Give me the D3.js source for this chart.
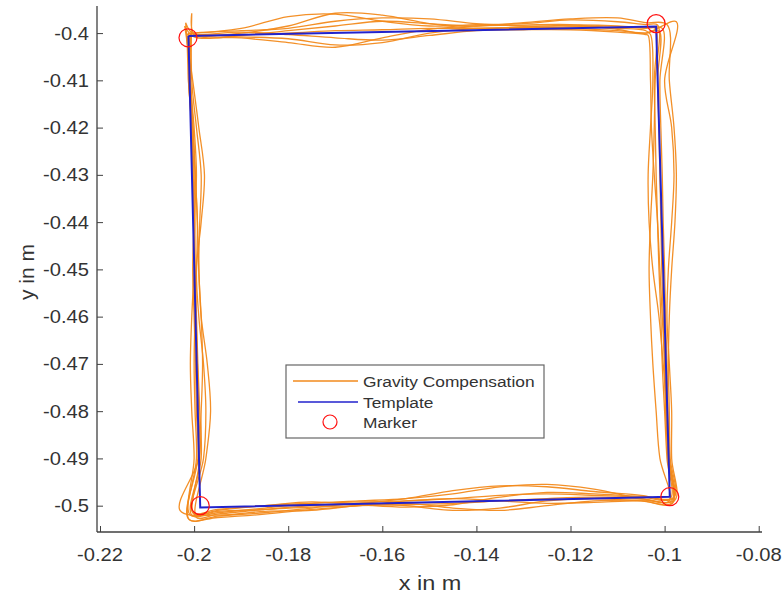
<!DOCTYPE html>
<html>
<head>
<meta charset="utf-8">
<script src="https://cdn.jsdelivr.net/npm/d3@7"></script>
<style>
  body { margin: 0; background: #fff; }
  text { font-family: "Liberation Sans", Arial, sans-serif; fill: #333; }
</style>
</head>
<body>
<svg width="784" height="599"></svg>
<script>
// ---- data (metres) ----
var xTicks = [-0.22, -0.2, -0.18, -0.16, -0.14, -0.12, -0.1, -0.08];
var yTicks = [-0.4, -0.41, -0.42, -0.43, -0.44, -0.45, -0.46, -0.47, -0.48, -0.49, -0.5];

// template square (closed)
var templateX = [-0.2012, -0.1018, -0.0989, -0.1987, -0.2012];
var templateY = [-0.4006, -0.3986, -0.4981, -0.5004, -0.4006];

// marker corners
var markerX = [-0.2013, -0.1018, -0.0989, -0.1987];
var markerY = [-0.4010, -0.3980, -0.4981, -0.5000];

// sample positions along each side
var topX = [-0.200, -0.19, -0.18, -0.17, -0.16, -0.15, -0.14, -0.13, -0.12, -0.11, -0.104];
var rightY = [-0.41, -0.42, -0.43, -0.44, -0.45, -0.46, -0.47, -0.48, -0.49];
var bottomX = [-0.105, -0.115, -0.125, -0.135, -0.145, -0.155, -0.165, -0.175, -0.185, -0.195];
var leftY = [-0.49, -0.48, -0.47, -0.46, -0.45, -0.44, -0.43, -0.42, -0.41];

// gravity compensation runs: y along top, x along right, y along bottom, x along left
var topRuns = [
  [-0.4000, -0.3990, -0.3965, -0.3960, -0.3975, -0.3985, -0.3982, -0.3980, -0.3972, -0.3976, -0.3982],
  [-0.4003, -0.4000, -0.3985, -0.3958, -0.3962, -0.3980, -0.3990, -0.3987, -0.3983, -0.3985, -0.3990],
  [-0.4005, -0.4008, -0.4012, -0.4025, -0.4020, -0.4000, -0.3990, -0.3990, -0.3987, -0.3990, -0.3995],
  [-0.4002, -0.4010, -0.4020, -0.4030, -0.4010, -0.3992, -0.3985, -0.3983, -0.3982, -0.3992, -0.4000],
  [-0.4000, -0.3995, -0.3990, -0.3975, -0.3968, -0.3970, -0.3980, -0.3985, -0.3985, -0.3988, -0.3988],
  [-0.4005, -0.4003, -0.4000, -0.3995, -0.3993, -0.3990, -0.3990, -0.3988, -0.3990, -0.3995, -0.4000],
  [-0.4008, -0.4005, -0.3995, -0.3985, -0.3975, -0.3980, -0.3985, -0.3978, -0.3970, -0.3968, -0.3978],
  [-0.4003, -0.3998, -0.4003, -0.4010, -0.4015, -0.4005, -0.3995, -0.3993, -0.3993, -0.3998, -0.4003]
];
var rightRuns = [
  [-0.1020, -0.1022, -0.1025, -0.1030, -0.1033, -0.1030, -0.1025, -0.1018, -0.1010],
  [-0.1010, -0.1008, -0.1005, -0.1003, -0.1000, -0.0998, -0.0995, -0.0993, -0.0990],
  [-0.1025, -0.1030, -0.1035, -0.1033, -0.1025, -0.1012, -0.1003, -0.0995, -0.0990],
  [-0.1000, -0.0985, -0.0980, -0.0985, -0.0992, -0.0995, -0.0990, -0.0985, -0.0985],
  [-0.1022, -0.1020, -0.1018, -0.1015, -0.1012, -0.1008, -0.1005, -0.1000, -0.0995],
  [-0.1015, -0.1012, -0.1010, -0.1008, -0.1006, -0.1003, -0.1000, -0.0997, -0.0993],
  [-0.0990, -0.0980, -0.0975, -0.0978, -0.0985, -0.0990, -0.0992, -0.0990, -0.0988],
  [-0.1030, -0.1028, -0.1022, -0.1015, -0.1010, -0.1005, -0.1000, -0.0998, -0.0992]
];
var bottomRuns = [
  [-0.4985, -0.4965, -0.4955, -0.4960, -0.4975, -0.4985, -0.4990, -0.4995, -0.5005, -0.5015],
  [-0.4978, -0.4970, -0.4960, -0.4958, -0.4968, -0.4985, -0.4995, -0.5000, -0.5008, -0.5018],
  [-0.4990, -0.4985, -0.4990, -0.5005, -0.5010, -0.5000, -0.4995, -0.5005, -0.5015, -0.5022],
  [-0.4988, -0.4990, -0.5000, -0.5010, -0.5005, -0.4995, -0.5000, -0.5010, -0.5012, -0.5020],
  [-0.4982, -0.4978, -0.4975, -0.4978, -0.4985, -0.4990, -0.4992, -0.4995, -0.5000, -0.5010],
  [-0.4985, -0.4982, -0.4985, -0.4990, -0.4995, -0.4998, -0.5000, -0.5003, -0.5008, -0.5012],
  [-0.4980, -0.4975, -0.4972, -0.4982, -0.4998, -0.5003, -0.4998, -0.4992, -0.5000, -0.5008],
  [-0.4990, -0.4993, -0.4995, -0.4990, -0.4985, -0.4990, -0.5000, -0.5008, -0.5018, -0.5025]
];
var leftRuns = [
  [-0.1985, -0.1988, -0.1992, -0.1995, -0.1998, -0.2000, -0.2003, -0.2006, -0.2010],
  [-0.1975, -0.1965, -0.1972, -0.1985, -0.1990, -0.1993, -0.1997, -0.2002, -0.2008],
  [-0.1995, -0.1998, -0.2000, -0.1998, -0.1995, -0.1993, -0.1998, -0.2003, -0.2012],
  [-0.1990, -0.1985, -0.1982, -0.1985, -0.1990, -0.1988, -0.1985, -0.1995, -0.2005],
  [-0.2000, -0.2005, -0.2008, -0.2005, -0.2000, -0.1998, -0.2000, -0.2005, -0.2012],
  [-0.1988, -0.1990, -0.1993, -0.1996, -0.1998, -0.2000, -0.2002, -0.2005, -0.2008],
  [-0.1980, -0.1975, -0.1980, -0.1990, -0.1995, -0.1985, -0.1978, -0.1990, -0.2003],
  [-0.1992, -0.1995, -0.1997, -0.2000, -0.2003, -0.2000, -0.1995, -0.2000, -0.2008]
];
// corners per run [x, y]
var cornerTL = [[-0.2012, -0.4000], [-0.2018, -0.3978], [-0.2008, -0.4008], [-0.2005, -0.3958],
                [-0.2015, -0.4003], [-0.2010, -0.4005], [-0.2020, -0.3985], [-0.2007, -0.4000]];
var cornerTR = [[-0.1015, -0.3983], [-0.1005, -0.3990], [-0.1030, -0.4003], [-0.0975, -0.3976],
                [-0.1020, -0.3990], [-0.1012, -0.3995], [-0.0995, -0.3982], [-0.1035, -0.4005]];
var cornerBR = [[-0.0990, -0.4990], [-0.0982, -0.4985], [-0.0985, -0.4995], [-0.0978, -0.4988],
                [-0.0988, -0.4985], [-0.0985, -0.4990], [-0.0980, -0.4982], [-0.0983, -0.4995]];
var cornerBL = [[-0.2005, -0.5020], [-0.1995, -0.5025], [-0.2010, -0.5030], [-0.2030, -0.5010],
                [-0.2008, -0.5020], [-0.2000, -0.5018], [-0.2003, -0.5015], [-0.2012, -0.5028]];

var legendLabels = ["Gravity Compensation", "Template", "Marker"];

// ---- layout ----
var svg = d3.select("svg");
var orange = "#f28a1c", blue = "#2222cc", axisCol = "#404040";
var sx = 1.12; // horizontal text stretch seen in the reference

var x = d3.scaleLinear().domain([-0.22064, -0.0793]).range([97, 762]);
var y = d3.scaleLinear().domain([-0.50557, -0.39427]).range([532, 6]);

function stretchedText(g, tx, ty, str, size, anchor) {
    return g.append("text")
            .attr("transform", "translate(" + tx + "," + ty + ") scale(" + sx + ",1)")
            .attr("font-size", size)
            .attr("text-anchor", anchor)
            .text(str);
}

// build each run as a closed loop of points
function buildRun(i) {
    var pts = [cornerTL[i]];
    topX.forEach(function(v, j) { pts.push([v, topRuns[i][j]]); });
    pts.push(cornerTR[i]);
    rightY.forEach(function(v, j) { pts.push([rightRuns[i][j], v]); });
    pts.push(cornerBR[i]);
    bottomX.forEach(function(v, j) { pts.push([v, bottomRuns[i][j]]); });
    pts.push(cornerBL[i]);
    leftY.forEach(function(v, j) { pts.push([leftRuns[i][j], v]); });
    pts.push(cornerTL[i]);
    return pts;
}
var runs = d3.range(topRuns.length).map(buildRun);

var runLine = d3.line()
    .x(function(d) { return x(d[0]); })
    .y(function(d) { return y(d[1]); })
    .curve(d3.curveCatmullRom.alpha(0.5));

svg.append("g")
   .attr("class", "runs")
   .selectAll("path")
   .data(runs)
   .enter()
   .append("path")
   .attr("d", runLine)
   .attr("fill", "none")
   .attr("stroke", orange)
   .attr("stroke-width", 1.3)
   .attr("stroke-opacity", 0.95);

var templatePts = templateX.map(function(v, i) { return [v, templateY[i]]; });
svg.append("path")
   .attr("d", d3.line().x(function(d) { return x(d[0]); }).y(function(d) { return y(d[1]); })(templatePts))
   .attr("fill", "none")
   .attr("stroke", blue)
   .attr("stroke-width", 2);

svg.append("g")
   .selectAll("circle")
   .data(markerX)
   .enter()
   .append("circle")
   .attr("cx", function(d) { return x(d); })
   .attr("cy", function(d, i) { return y(markerY[i]); })
   .attr("r", 9)
   .attr("fill", "none")
   .attr("stroke", "#ff1010")
   .attr("stroke-width", 1.2);

// ---- axes (ticks point inward) ----
var xAxis = svg.append("g").attr("transform", "translate(0,532)")
   .call(d3.axisTop(x).tickValues(xTicks).tickSize(6).tickFormat(""));
var yAxis = svg.append("g").attr("transform", "translate(97,0)")
   .call(d3.axisRight(y).tickValues(yTicks).tickSize(6).tickFormat(""));
[xAxis, yAxis].forEach(function(a) {
    a.select(".domain").remove();
    a.selectAll("line").attr("stroke", axisCol);
});
svg.append("line").attr("x1", 97).attr("y1", 532).attr("x2", 762).attr("y2", 532)
   .attr("stroke", axisCol).attr("stroke-width", 1.3);
svg.append("line").attr("x1", 97).attr("y1", 6).attr("x2", 97).attr("y2", 532)
   .attr("stroke", axisCol).attr("stroke-width", 1.3);

// plain hyphen-minus labels, as in the reference
function tickText(t) { return String(+t.toFixed(2)); }

var labels = svg.append("g");
xTicks.forEach(function(t) {
    stretchedText(labels, x(t), 561, tickText(t), 18, "middle");
});
yTicks.forEach(function(t) {
    stretchedText(labels, 89, y(t) + 6.5, tickText(t), 18, "end");
});

stretchedText(labels, 430, 590, "x in m", 21, "middle");
labels.append("text")
      .attr("transform", "translate(34,272) rotate(-90)")
      .attr("font-size", 21)
      .attr("text-anchor", "middle")
      .text("y in m");

// ---- legend ----
var lg = svg.append("g");
lg.append("rect").attr("x", 286).attr("y", 365).attr("width", 258).attr("height", 73)
  .attr("fill", "#fff").attr("stroke", "#666").attr("stroke-width", 1.2);
var rowY = [381, 402, 422];
lg.append("line").attr("x1", 293).attr("x2", 358).attr("y1", rowY[0]).attr("y2", rowY[0])
  .attr("stroke", orange).attr("stroke-width", 1.5);
lg.append("line").attr("x1", 298).attr("x2", 358).attr("y1", rowY[1]).attr("y2", rowY[1])
  .attr("stroke", blue).attr("stroke-width", 1.5);
lg.append("circle").attr("cx", 330).attr("cy", rowY[2]).attr("r", 7)
  .attr("fill", "none").attr("stroke", "#ff1010").attr("stroke-width", 1.2);
legendLabels.forEach(function(s, i) {
    stretchedText(lg, 363, rowY[i] + 5.5, s, 15.5, "start");
});
</script>
</body>
</html>
